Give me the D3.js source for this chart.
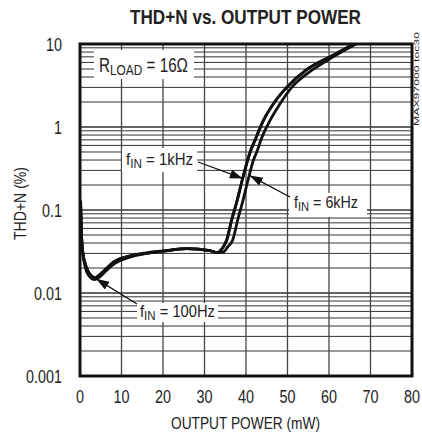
<!DOCTYPE html>
<html>
<head>
<meta charset="utf-8">
<script src="https://cdn.jsdelivr.net/npm/d3@7"></script>
<style>
  body { margin: 0; background: #fff; }
  text { font-family: 'Liberation Sans', Arial, sans-serif; fill: #222; }
</style>
</head>
<body>
<svg width="422" height="437"></svg>
<script>
const width = 422;
const height = 437;
const margin = { top: 44, right: 10, bottom: 61, left: 80 };

// tick values
const powerTicks = [0, 10, 20, 30, 40, 50, 60, 70, 80];
const thdTicks = [0.001, 0.01, 0.1, 1, 10];
const thdTickLabels = ['0.001', '0.01', '0.1', '1', '10'];

// fIN = 100Hz
const p100 = [0.15, 0.4, 0.8, 1.2, 2, 3.6, 5, 6.5, 8, 12, 16, 20.1, 25.7, 31.3, 33, 34.2, 35.35, 36.55, 37.9, 39.1, 40.4, 41, 42.2, 44.2, 46.6, 49.8, 54.6, 60.2, 66];
const thd100 = [0.13, 0.045, 0.027, 0.021, 0.0165, 0.0145, 0.016, 0.019, 0.022, 0.027, 0.030, 0.032, 0.0342, 0.0325, 0.0306, 0.034, 0.0435, 0.076, 0.132, 0.23, 0.40, 0.5, 0.70, 1.2, 1.9, 3.0, 4.9, 7.0, 10];

// fIN = 1kHz
const p1k = [0.15, 0.4, 0.8, 1.2, 2, 3.6, 5, 6.5, 8, 12, 16, 20.1, 25.7, 31.3, 33, 34.2, 35.35, 36.55, 37.9, 39.1, 40.4, 41, 42.2, 44.2, 46.6, 49.8, 54.6, 60.2, 66];
const thd1k = [0.12, 0.045, 0.028, 0.023, 0.018, 0.0153, 0.017, 0.02, 0.0232, 0.0279, 0.030, 0.032, 0.0342, 0.0325, 0.0306, 0.034, 0.0435, 0.076, 0.132, 0.23, 0.40, 0.5, 0.70, 1.2, 1.9, 3.0, 4.9, 7.0, 10];

// fIN = 6kHz
const p6k = [0.15, 0.4, 0.8, 1.2, 2, 3.6, 5, 6.5, 8, 12, 16, 20.1, 25.7, 31.3, 33, 34.5, 35.6, 36.8, 38, 39.3, 40.5, 41.8, 42.6, 43.6, 45.8, 48.2, 51, 55.8, 61, 66.5];
const thd6k = [0.12, 0.045, 0.028, 0.023, 0.018, 0.0153, 0.017, 0.02, 0.0235, 0.028, 0.0305, 0.0322, 0.0342, 0.0325, 0.0306, 0.031, 0.036, 0.0435, 0.076, 0.132, 0.23, 0.40, 0.5, 0.70, 1.2, 1.9, 3.0, 4.8, 7.0, 10];

const series = [
  { p: p100, thd: thd100 },
  { p: p1k, thd: thd1k },
  { p: p6k, thd: thd6k }
];

const svg = d3.select('svg');

const x = d3.scaleLinear().domain([0, 80]).range([margin.left, width - margin.right]);
const y = d3.scaleLog().domain([0.001, 10]).range([height - margin.bottom, margin.top]);

svg.append('defs').append('marker')
  .attr('id', 'arrow')
  .attr('viewBox', '0 0 13 9')
  .attr('refX', 13)
  .attr('refY', 4.5)
  .attr('markerWidth', 13)
  .attr('markerHeight', 9)
  .attr('markerUnits', 'userSpaceOnUse')
  .attr('orient', 'auto')
  .append('path')
  .attr('d', 'M0,0L13,4.5L0,9Z')
  .attr('fill', '#111');

svg.append('clipPath').attr('id', 'plot')
  .append('rect')
  .attr('x', x(0)).attr('y', y(10))
  .attr('width', x(80) - x(0)).attr('height', y(0.001) - y(10));

// grid
const minor = [];
for (let d = 0.001; d < 10; d *= 10) {
  for (let k = 1; k <= 9; k++) minor.push(+(d * k).toPrecision(2));
}

svg.append('g')
  .selectAll('line')
  .data(minor)
  .join('line')
  .attr('x1', x(0)).attr('x2', x(80))
  .attr('y1', (d) => y(d)).attr('y2', (d) => y(d))
  .attr('stroke', '#333')
  .attr('stroke-width', (d) => thdTicks.includes(d) ? 1.6 : 1);

svg.append('g')
  .selectAll('line')
  .data(powerTicks)
  .join('line')
  .attr('x1', (d) => x(d)).attr('x2', (d) => x(d))
  .attr('y1', y(10)).attr('y2', y(0.001))
  .attr('stroke', '#444')
  .attr('stroke-width', 1.3);

// curves
const line = d3.line()
  .x((d) => x(d[0]))
  .y((d) => y(d[1]))
  .curve(d3.curveMonotoneX);

svg.append('g')
  .attr('clip-path', 'url(#plot)')
  .selectAll('path')
  .data(series)
  .join('path')
  .attr('d', (s) => line(s.p.map((v, i) => [v, s.thd[i]])))
  .attr('fill', 'none')
  .attr('stroke', '#111')
  .attr('stroke-width', 2.8)
  .attr('stroke-linejoin', 'round');

// frame
svg.append('rect')
  .attr('x', x(0)).attr('y', y(10))
  .attr('width', x(80) - x(0)).attr('height', y(0.001) - y(10))
  .attr('fill', 'none')
  .attr('stroke', '#111')
  .attr('stroke-width', 3);

// tick labels, narrowed like the condensed original face
svg.append('g')
  .selectAll('text')
  .data(thdTicks)
  .join('text')
  .attr('transform', (d) => `translate(62,${y(d) + 6.5}) scale(0.8,1)`)
  .attr('text-anchor', 'end')
  .attr('font-size', 18)
  .text((d, i) => thdTickLabels[i]);

svg.append('g')
  .selectAll('text')
  .data(powerTicks)
  .join('text')
  .attr('transform', (d) => `translate(${x(d)},403) scale(0.8,1)`)
  .attr('text-anchor', 'middle')
  .attr('font-size', 18)
  .text((d) => d);

// titles
svg.append('text')
  .attr('x', 130).attr('y', 24)
  .attr('font-size', 21)
  .attr('font-weight', 'bold')
  .attr('fill', '#111')
  .attr('textLength', 231)
  .attr('lengthAdjust', 'spacingAndGlyphs')
  .text('THD+N vs. OUTPUT POWER');

svg.append('text')
  .attr('x', 171).attr('y', 429)
  .attr('font-size', 16.5)
  .attr('textLength', 149)
  .attr('lengthAdjust', 'spacingAndGlyphs')
  .text('OUTPUT POWER (mW)');

svg.append('text')
  .attr('transform', 'translate(26,240) rotate(-90)')
  .attr('font-size', 17)
  .attr('textLength', 73)
  .attr('lengthAdjust', 'spacingAndGlyphs')
  .text('THD+N (%)');

svg.append('text')
  .attr('transform', 'translate(419,126) rotate(-90)')
  .attr('font-size', 7.5)
  .attr('fill', '#777')
  .attr('textLength', 94)
  .attr('lengthAdjust', 'spacingAndGlyphs')
  .text('MAX97000 toc30');

// annotations
function label(tx, ty, size, len, main, sub, rest, box) {
  const g = svg.append('g');
  g.append('rect')
    .attr('x', box[0]).attr('y', box[1])
    .attr('width', box[2]).attr('height', box[3])
    .attr('fill', '#fff');
  const t = g.append('text')
    .attr('x', tx).attr('y', ty)
    .attr('font-size', size)
    .attr('textLength', len)
    .attr('lengthAdjust', 'spacingAndGlyphs');
  t.append('tspan').text(main);
  t.append('tspan').attr('font-size', size * 0.78).attr('dy', 3).text(sub);
  t.append('tspan').attr('dy', -3).text(rest);
  return g;
}

function arrow(x1, y1, x2, y2) {
  svg.append('line')
    .attr('x1', x1).attr('y1', y1)
    .attr('x2', x2).attr('y2', y2)
    .attr('stroke', '#111')
    .attr('stroke-width', 1.3)
    .attr('marker-end', 'url(#arrow)');
}

label(99, 71.5, 19.5, 89, 'R', 'LOAD', ' = 16Ω', [94, 50, 100, 29]);
label(126, 165, 17, 67, 'f', 'IN', ' = 1kHz', [122, 148, 75, 24]);
label(294, 207.5, 17, 64, 'f', 'IN', ' = 6kHz', [289, 193, 78, 24]);
label(140, 317, 17, 75, 'f', 'IN', ' = 100Hz', [137, 303, 81, 19]);

arrow(198, 162, x(39.2), y(0.24));
arrow(290, 197, x(40.9), y(0.26));
arrow(137, 304, x(3.9), y(0.0148));
</script>
</body>
</html>
